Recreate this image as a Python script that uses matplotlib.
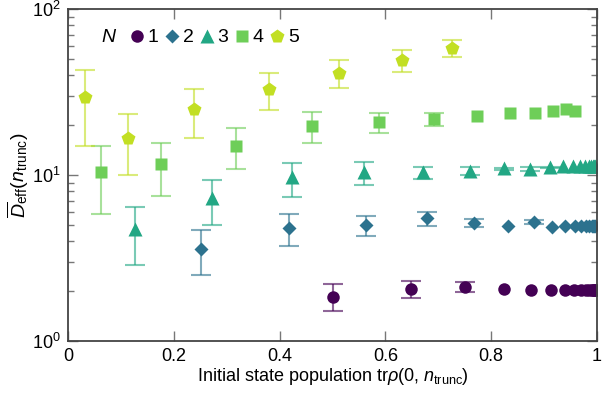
import numpy as np
import matplotlib.pyplot as plt
from matplotlib.lines import Line2D

plt.rcParams['font.family'] = ['Liberation Sans', 'DejaVu Sans']
plt.rcParams['mathtext.fontset'] = 'custom'
plt.rcParams['mathtext.rm'] = 'Liberation Sans'
plt.rcParams['mathtext.it'] = 'Liberation Sans:italic'

# N = 1
x1 = [0.501, 0.648, 0.751, 0.825, 0.876, 0.913, 0.940, 0.957, 0.970, 0.979, 0.985, 0.990, 0.993, 0.995, 0.997, 0.998]
y1 = [1.85, 2.05, 2.12, 2.07, 2.03, 2.02, 2.02, 2.02, 2.02, 2.02, 2.02, 2.02, 2.02, 2.02, 2.02, 2.02]
lo1 = [1.52, 1.81, 1.98, 2.07, 2.03, 2.02, 2.02, 2.02, 2.02, 2.02, 2.02, 2.02, 2.02, 2.02, 2.02, 2.02]
hi1 = [2.20, 2.29, 2.28, 2.07, 2.03, 2.02, 2.02, 2.02, 2.02, 2.02, 2.02, 2.02, 2.02, 2.02, 2.02, 2.02]

# N = 2
x2 = [0.251, 0.418, 0.563, 0.679, 0.767, 0.832, 0.880, 0.914, 0.940, 0.958, 0.970, 0.979, 0.985, 0.990, 0.993, 0.995, 0.997]
y2 = [3.58, 4.80, 5.00, 5.48, 5.16, 4.95, 5.23, 4.88, 4.93, 4.96, 4.96, 4.96, 4.96, 4.96, 4.96, 4.96, 4.96]
lo2 = [2.51, 3.73, 4.29, 4.93, 4.85, 4.95, 5.10, 4.88, 4.93, 4.96, 4.96, 4.96, 4.96, 4.96, 4.96, 4.96, 4.96]
hi2 = [4.66, 5.85, 5.69, 6.01, 5.43, 4.95, 5.36, 4.88, 4.93, 4.96, 4.96, 4.96, 4.96, 4.96, 4.96, 4.96, 4.96]

# N = 3
x3 = [0.126, 0.272, 0.423, 0.560, 0.672, 0.759, 0.825, 0.874, 0.911, 0.936, 0.955, 0.968, 0.977, 0.984, 0.989, 0.992, 0.995, 0.997]
y3 = [4.71, 7.30, 9.68, 10.4, 10.4, 10.6, 11.0, 10.85, 11.2, 11.4, 11.3, 11.4, 11.4, 11.4, 11.4, 11.4, 11.4, 11.4]
lo3 = [2.88, 5.00, 7.37, 8.70, 9.42, 10.0, 10.75, 10.55, 11.0, 11.4, 11.3, 11.4, 11.4, 11.4, 11.4, 11.4, 11.4, 11.4]
hi3 = [6.39, 9.33, 11.8, 11.9, 11.2, 11.2, 11.0, 11.2, 11.2, 11.4, 11.3, 11.4, 11.4, 11.4, 11.4, 11.4, 11.4, 11.4]

# N = 4
x4 = [0.063, 0.176, 0.318, 0.461, 0.588, 0.692, 0.774, 0.836, 0.882, 0.916, 0.941, 0.958]
y4 = [10.5, 11.6, 15.0, 19.8, 20.9, 21.7, 22.6, 23.6, 23.5, 24.4, 24.9, 24.2]
lo4 = [5.82, 7.50, 10.9, 15.5, 17.8, 19.7, 22.6, 23.6, 23.5, 24.4, 24.9, 24.2]
hi4 = [15.0, 15.6, 19.1, 24.1, 23.7, 23.7, 22.6, 23.6, 23.5, 24.4, 24.9, 24.2]

# N = 5
x5 = [0.033, 0.114, 0.239, 0.379, 0.513, 0.631, 0.725]
y5 = [29.6, 16.8, 24.9, 33.0, 41.3, 49.3, 58.0]
lo5 = [14.9, 9.96, 16.6, 24.5, 33.3, 41.6, 51.2]
hi5 = [43.1, 23.4, 33.1, 41.3, 49.3, 56.4, 65.1]

labels = ['1', '2', '3', '4', '5']
colors = ['#440154', '#2c728e', '#22a784', '#6ece58', '#c2df23']
markers = ['o', 'D', '^', 's', 'p']
msizes = [9, 7.5, 9.5, 8, 10.5]

series = [(x1, y1, lo1, hi1), (x2, y2, lo2, hi2), (x3, y3, lo3, hi3),
          (x4, y4, lo4, hi4), (x5, y5, lo5, hi5)]

fig = plt.figure(figsize=(6.02, 3.93), dpi=100)
ax = fig.add_axes([0.113, 0.1323, 0.8787, 0.8447])

for (x, y, lo, hi), c, m, ms in zip(series, colors, markers, msizes):
    x, y, lo, hi = map(np.array, (x, y, lo, hi))
    # only points with a spread get an error bar
    has_err = hi > lo
    yerr = [(y - lo)[has_err], (hi - y)[has_err]]
    ax.errorbar(x[has_err], y[has_err], yerr=yerr, fmt='none', ecolor=c,
                alpha=0.6, elinewidth=1.5, capsize=7, capthick=1.5)
    ax.plot(x, y, ls='none', marker=m, ms=ms, color=c, mec='none')

ax.set_yscale('log')
ax.set_xlim(0, 1)
ax.set_ylim(1, 100)
ax.set_xticks([0, 0.2, 0.4, 0.6, 0.8, 1])
ax.set_xticklabels(['0', '0.2', '0.4', '0.6', '0.8', '1'])

for side in ['left', 'right', 'top', 'bottom']:
    ax.spines[side].set_color('#444444')
    ax.spines[side].set_linewidth(1.3)
ax.tick_params(which='both', direction='in', top=True, right=True,
               color='#777777', labelsize=13, pad=5)
ax.tick_params(which='major', length=7, width=1)
ax.tick_params(which='minor', length=4.5, width=1)

ax.set_xlabel(r'Initial state population tr$\rho$(0, $n_{\mathrm{trunc}}$)', fontsize=13, labelpad=1)
ax.set_ylabel(r'$\overline{D}_{\mathrm{eff}}(n_{\mathrm{trunc}})$', fontsize=14, labelpad=1)

handles = [Line2D([], [], ls='none', marker=m, ms=ms, color=c, mec='none')
           for c, m, ms in zip(colors, markers, msizes)]
ax.text(0.063, 0.914, r'$N$', transform=ax.transAxes, fontsize=14, va='center')
ax.legend(handles, labels, loc='center left', bbox_to_anchor=(0.115, 0.914),
          ncol=5, frameon=False, fontsize=14, handlelength=0.8,
          handletextpad=0.15, columnspacing=0.3, borderpad=0, borderaxespad=0)

fig.savefig('out.png', dpi=100)
